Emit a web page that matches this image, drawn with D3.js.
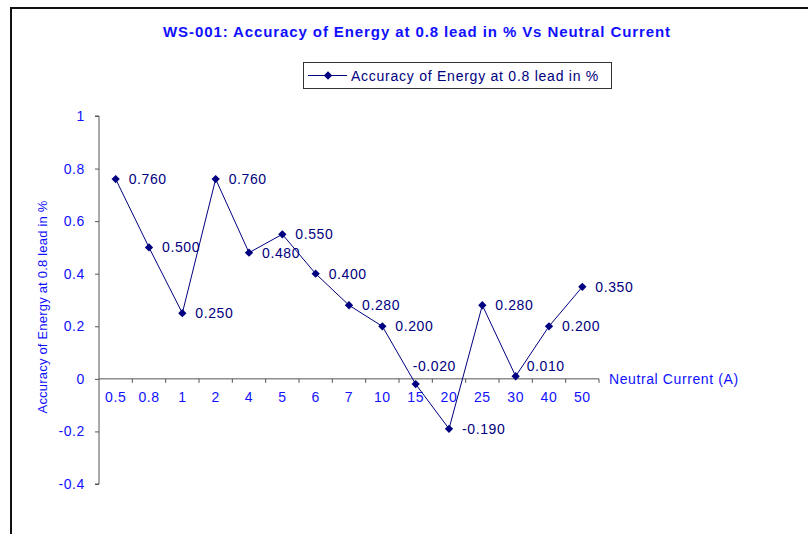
<!DOCTYPE html>
<html>
<head>
<meta charset="utf-8">
<script src="https://cdn.jsdelivr.net/npm/d3@7"></script>
<style>
  html, body { margin: 0; padding: 0; background: #fff; }
  svg { display: block; font-family: "Liberation Sans", Arial, sans-serif; }
</style>
</head>
<body>
<svg id="chart" width="808" height="534"></svg>
<script>
// ---- data ----
const categories = ["0.5", "0.8", "1", "2", "4", "5", "6", "7", "10", "15", "20", "25", "30", "40", "50"];
const accuracyValues = [0.76, 0.50, 0.25, 0.76, 0.48, 0.55, 0.40, 0.28, 0.20, -0.02, -0.19, 0.28, 0.01, 0.20, 0.35];
const yTicks = [-0.4, -0.2, 0, 0.2, 0.4, 0.6, 0.8, 1];
const titleText = "WS-001: Accuracy of Energy at 0.8 lead in % Vs Neutral Current";
const seriesName = "Accuracy of Energy at 0.8 lead in %";
const yAxisTitle = "Accuracy of Energy at 0.8 lead in %";
const xAxisTitle = "Neutral Current (A)";

// ---- styles / layout ----
const navy = "#000080";
const blue = "#1010ff";
const axisColor = "#555";
const fs = 14;
const ls = "0.6px";
const plot = { left: 99, right: 599, top: 116, bottom: 484 };
// manual label nudges (layout, not data): offset from the default right-side position
const labelNudge = { "15": [-16, -18], "30": [-2, -10] };

const svg = d3.select("#chart");

// outer chart border
svg.append("rect").attr("x", 11).attr("y", 8).attr("width", 820).attr("height", 560)
  .attr("fill", "none").attr("stroke", "#111").attr("stroke-width", 2);

const x = d3.scaleBand().domain(categories).range([plot.left, plot.right]);
const y = d3.scaleLinear().domain([-0.4, 1]).range([plot.bottom, plot.top]);
const cx = d => x(d.c) + x.bandwidth() / 2;

// title
svg.append("text").attr("x", 417).attr("y", 37).attr("text-anchor", "middle")
  .attr("font-size", 15).attr("font-weight", "bold").attr("letter-spacing", "0.9px")
  .attr("fill", blue).text(titleText);

// y axis
const yAxis = svg.append("g").attr("transform", `translate(${plot.left},0)`)
  .call(d3.axisLeft(y).tickValues(yTicks).tickSize(4).tickPadding(10)
    .tickFormat(d => String(+d.toFixed(1))));
yAxis.select(".domain").attr("stroke", axisColor).attr("d", `M-4,${plot.top}H0V${plot.bottom}H-4`);
yAxis.selectAll(".tick line").attr("stroke", axisColor);
yAxis.selectAll(".tick text").attr("fill", blue).attr("font-size", fs).attr("letter-spacing", ls)
  .attr("font-family", "Liberation Sans, Arial, sans-serif");

// x axis at zero
const xAxis = svg.append("g").attr("transform", `translate(0,${y(0)})`)
  .call(d3.axisBottom(x).tickSize(0).tickPadding(13));
xAxis.select(".domain").remove();
xAxis.append("line").attr("x1", plot.left).attr("x2", plot.right).attr("stroke", axisColor);
const boundaries = categories.map((c, i) => plot.left + x.step() * (i + 1));
xAxis.selectAll(".bt").data(boundaries).enter().append("line")
  .attr("x1", d => d).attr("x2", d => d).attr("y1", 0).attr("y2", 4).attr("stroke", axisColor);
xAxis.selectAll(".tick text").attr("fill", blue).attr("font-size", fs).attr("letter-spacing", ls)
  .attr("font-family", "Liberation Sans, Arial, sans-serif");

// axis titles
svg.append("text").attr("x", 609).attr("y", y(0) + 5).attr("font-size", fs).attr("letter-spacing", ls)
  .attr("fill", blue).text(xAxisTitle);
svg.append("text").attr("transform", `translate(47,307) rotate(-90)`)
  .attr("text-anchor", "middle").attr("font-size", 13).attr("letter-spacing", "0.2px")
  .attr("fill", blue).text(yAxisTitle);

// series
const pts = categories.map((c, i) => ({ c, v: accuracyValues[i] }));
const line = d3.line().x(cx).y(d => y(d.v));
svg.append("path").datum(pts).attr("d", line).attr("fill", "none")
  .attr("stroke", navy).attr("stroke-width", 1);

const diamond = d3.symbol().type(d3.symbolDiamond2).size(44);
svg.selectAll(".pt").data(pts).enter().append("path")
  .attr("transform", d => `translate(${cx(d)},${y(d.v)})`)
  .attr("d", diamond).attr("fill", navy);

svg.selectAll(".lbl").data(pts).enter().append("text")
  .attr("x", d => cx(d) + 13 + (labelNudge[d.c] ? labelNudge[d.c][0] : 0))
  .attr("y", d => y(d.v) + 5 + (labelNudge[d.c] ? labelNudge[d.c][1] : 0))
  .attr("font-size", fs).attr("letter-spacing", ls).attr("fill", navy)
  .text(d => d3.format(".3f")(d.v).replace("\u2212", "-"));

// legend
const lg = svg.append("g");
lg.append("rect").attr("x", 303.5).attr("y", 62.5).attr("width", 308).attr("height", 26)
  .attr("fill", "#fff").attr("stroke", "#333").attr("stroke-width", 1);
lg.append("line").attr("x1", 308).attr("x2", 347).attr("y1", 75.5).attr("y2", 75.5)
  .attr("stroke", navy);
lg.append("path").attr("transform", "translate(328,75.5)").attr("d", diamond).attr("fill", navy);
lg.append("text").attr("x", 351).attr("y", 80.5).attr("font-size", fs).attr("letter-spacing", "0.75px")
  .attr("fill", navy).text(seriesName);
</script>
</body>
</html>
